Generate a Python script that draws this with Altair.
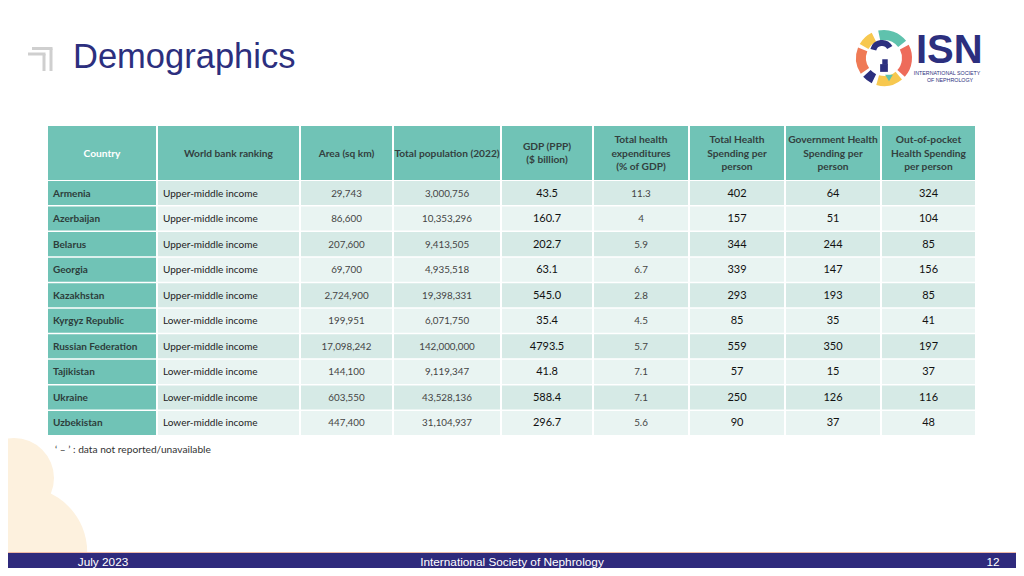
import altair as alt
import pandas as pd

# ---------------- data ----------------
countries = ["Armenia", "Azerbaijan", "Belarus", "Georgia", "Kazakhstan",
             "Kyrgyz Republic", "Russian Federation", "Tajikistan", "Ukraine", "Uzbekistan"]
wb_ranking = ["Upper-middle income", "Upper-middle income", "Upper-middle income",
              "Upper-middle income", "Upper-middle income", "Lower-middle income",
              "Upper-middle income", "Lower-middle income", "Lower-middle income",
              "Lower-middle income"]
area_sqkm = [29743, 86600, 207600, 69700, 2724900, 199951, 17098242, 144100, 603550, 447400]
population_2022 = [3000756, 10353296, 9413505, 4935518, 19398331, 6071750, 142000000,
                   9119347, 43528136, 31104937]
gdp_ppp_bn = [43.5, 160.7, 202.7, 63.1, 545.0, 35.4, 4793.5, 41.8, 588.4, 296.7]
health_exp_pct = [11.3, 4, 5.9, 6.7, 2.8, 4.5, 5.7, 7.1, 7.1, 5.6]
total_spend_pp = [402, 157, 344, 339, 293, 85, 559, 57, 250, 90]
gov_spend_pp = [64, 51, 244, 147, 193, 35, 350, 15, 126, 37]
oop_spend_pp = [324, 104, 85, 156, 85, 41, 197, 37, 116, 48]
headers = ["Country", "World bank ranking", "Area (sq km)", "Total population (2022)",
           "GDP (PPP)\n($ billion)", "Total health\nexpenditures\n(% of GDP)",
           "Total Health\nSpending per\nperson", "Government Health\nSpending per\nperson",
           "Out-of-pocket\nHealth Spending\nper person"]
title_text = "Demographics"
note_text = "\u2018 \u2013 \u2019 : data not reported/unavailable"
footer_texts = ["July 2023", "International  Society of Nephrology", "12"]

# ---------------- layout (styles / positions) ----------------
W, H = 1008, 560          # fits the page exactly (8px body margin on each side)
col_edges = [47, 157, 300, 393, 501, 593, 689, 785, 881, 976]
head_top, head_bot = 126, 180
row_top0, row_h = 181, 25.55
LH = 13.5
TEAL = "#70c3b6"
ROW_DARK, ROW_LIGHT = "#d6eae6", "#e9f4f2"
NAVY = "#2c2f7e"
FONT = "Lato"

xs = alt.Scale(domain=[8, 8 + W], range=[0, W], zero=False, nice=False)
ys = alt.Scale(domain=[8, 8 + H], range=[0, H], zero=False, nice=False)


def X(f):
    return alt.X(f, type="quantitative", scale=xs, axis=None)


def Y(f):
    return alt.Y(f, type="quantitative", scale=ys, axis=None)


# ---------------- table cells ----------------
columns = [
    [str(c) for c in countries],
    list(wb_ranking),
    [f"{v:,}" for v in area_sqkm],
    [f"{v:,}" for v in population_2022],
    [f"{v:.1f}" for v in gdp_ppp_bn],
    [f"{v:g}" for v in health_exp_pct],
    [str(v) for v in total_spend_pp],
    [str(v) for v in gov_spend_pp],
    [str(v) for v in oop_spend_pp],
]
col_size = [10, 10, 9.8, 9.8, 11, 9.8, 11, 11, 11]
col_color = ["#2d3d3b", "#222222", "#444444", "#444444", "#111111", "#444444",
             "#111111", "#111111", "#111111"]

cells, head_txt, txt_rows = [], [], []
for j in range(9):
    x0, x1 = col_edges[j] + 1, col_edges[j + 1] - 1
    cells.append(dict(x0=x0, x1=x1, y0=head_top, y1=head_bot, fill=TEAL))
    n_lines = len(headers[j].split("\n"))
    yc = (head_top + head_bot) / 2 + 0.5
    head_txt.append(dict(x=(x0 + x1) / 2, y=yc - (n_lines - 1) * LH / 2,
                         t=headers[j], c="#ffffff" if j == 0 else "#33403e"))
    for i in range(len(countries)):
        y0 = row_top0 + i * row_h
        y1 = y0 + row_h - 1.5
        fill = TEAL if j == 0 else (ROW_DARK if i % 2 == 0 else ROW_LIGHT)
        cells.append(dict(x0=x0, x1=x1, y0=y0, y1=y1, fill=fill))
        if j == 0:
            xt, kind = x0 + 5, "country"
        elif j == 1:
            xt, kind = x0 + 5, "left"
        else:
            xt, kind = (x0 + x1) / 2, "center"
        txt_rows.append(dict(x=xt, y=(y0 + y1) / 2 + 0.5, t=columns[j][i], kind=kind,
                             s=col_size[j], c=col_color[j]))

cells_df = pd.DataFrame(cells)
head_df = pd.DataFrame(head_txt)
txt_df = pd.DataFrame(txt_rows)

cell_layer = alt.Chart(cells_df).mark_rect(strokeWidth=0).encode(
    x=X("x0"), x2="x1", y=Y("y0"), y2="y1",
    color=alt.Color("fill:N", scale=None))

head_layer = alt.Chart(head_df).mark_text(
    font=FONT, fontWeight="bold", fontSize=10.2, align="center", baseline="middle",
    lineBreak="\n", lineHeight=LH).encode(
    x=X("x"), y=Y("y"), text="t:N", color=alt.Color("c:N", scale=None))

country_layer = alt.Chart(txt_df).transform_filter(alt.datum.kind == "country").mark_text(
    font=FONT, fontWeight="bold", align="left", baseline="middle").encode(
    x=X("x"), y=Y("y"), text="t:N", color=alt.Color("c:N", scale=None),
    size=alt.Size("s:Q", scale=None))

left_layer = alt.Chart(txt_df).transform_filter(alt.datum.kind == "left").mark_text(
    font=FONT, align="left", baseline="middle").encode(
    x=X("x"), y=Y("y"), text="t:N", color=alt.Color("c:N", scale=None),
    size=alt.Size("s:Q", scale=None))

center_layer = alt.Chart(txt_df).transform_filter(alt.datum.kind == "center").mark_text(
    font=FONT, align="center", baseline="middle").encode(
    x=X("x"), y=Y("y"), text="t:N", color=alt.Color("c:N", scale=None),
    size=alt.Size("s:Q", scale=None))

# ---------------- decorations ----------------
blob_df = pd.DataFrame([dict(x=14, y=478, s=6400), dict(x=22, y=552, s=17000)])
blob_layer = alt.Chart(blob_df).mark_circle(color="#fdf1de", opacity=1).encode(
    x=X("x"), y=Y("y"), size=alt.Size("s:Q", scale=None))

icon_df = pd.DataFrame([
    dict(x=32, x2=52.5, y=48.5, y2=48.5), dict(x=51, x2=51, y=48.5, y2=71),
    dict(x=28, x2=45.5, y=54, y2=54), dict(x=44, x2=44, y=54, y2=71),
])
icon_layer = alt.Chart(icon_df).mark_rule(color="#cfcfcf", strokeWidth=3, strokeCap="butt").encode(
    x=X("x"), x2="x2", y=Y("y"), y2="y2")

title_layer = alt.Chart(pd.DataFrame([dict(x=73, y=68, t=title_text)])).mark_text(
    font="Liberation Sans", fontSize=34.5, color=NAVY, align="left", baseline="alphabetic").encode(
    x=X("x"), y=Y("y"), text="t:N")

note_layer = alt.Chart(pd.DataFrame([dict(x=55, y=450, t=note_text)])).mark_text(
    font=FONT, fontSize=10.2, color="#333333", align="left", baseline="middle").encode(
    x=X("x"), y=Y("y"), text="t:N")

# ISN logo
ring_df = pd.DataFrame([
    dict(a0=-12, a1=52, c="#5fc2ad"),
    dict(a0=62, a1=132, c="#ee6b5a"),
    dict(a0=140, a1=196, c="#f7c84f"),
    dict(a0=206, a1=228, c="#2c2f7e"),
    dict(a0=236, a1=292, c="#ef7a55"),
    dict(a0=300, a1=334, c="#f7c84f"),
])
ring_df["cx"] = 884
ring_df["cy"] = 58
ring_layer = alt.Chart(ring_df).mark_arc(innerRadius=18, outerRadius=28).encode(
    x=X("cx"), y=Y("cy"),
    theta=alt.Theta("a0:Q", scale=alt.Scale(domain=[0, 360], range=[0, 6.283185])),
    theta2="a1:Q",
    color=alt.Color("c:N", scale=None))

key_df = pd.DataFrame([dict(a0=-75, a1=60, c="#2c2f7e")])
key_df["cx"] = 882
key_df["cy"] = 52
key_layer = alt.Chart(key_df).mark_arc(innerRadius=6, outerRadius=12).encode(
    x=X("cx"), y=Y("cy"),
    theta=alt.Theta("a0:Q", scale=alt.Scale(domain=[0, 360], range=[0, 6.283185])),
    theta2="a1:Q",
    color=alt.Color("c:N", scale=None))
keydot_df = pd.DataFrame([dict(x=884, y=68, s=60), dict(x=885, y=62, s=30)])
keydot_layer = alt.Chart(keydot_df).mark_square(color="#2c2f7e", opacity=1).encode(
    x=X("x"), y=Y("y"), size=alt.Size("s:Q", scale=None))
teal_df = pd.DataFrame([dict(x=889, y=78, s=60)])
teal_layer = alt.Chart(teal_df).mark_point(shape="triangle-down", filled=True, color="#5fc2ad", opacity=1).encode(
    x=X("x"), y=Y("y"), size=alt.Size("s:Q", scale=None))

isn_layer = alt.Chart(pd.DataFrame([dict(x=916, y=63, t="ISN")])).mark_text(
    font="Liberation Sans", fontWeight="bold", fontSize=40, color=NAVY,
    align="left", baseline="alphabetic").encode(
    x=X("x"), y=Y("y"), text="t:N")
isn_sub = alt.Chart(pd.DataFrame([
    dict(x=947, y=73, t="INTERNATIONAL SOCIETY"),
    dict(x=950, y=79.5, t="OF NEPHROLOGY")])).mark_text(
    font="Liberation Sans", fontSize=5.3, color=NAVY, align="center", baseline="middle").encode(
    x=X("x"), y=Y("y"), text="t:N")

# footer
footer_rect = alt.Chart(pd.DataFrame([dict(x0=0, x1=1024, y0=553, y1=576)])).mark_rect(
    color="#2f2a7c").encode(x=X("x0"), x2="x1", y=Y("y0"), y2="y1")
footer_line = alt.Chart(pd.DataFrame([dict(x0=0, x1=1024, y=552.5)])).mark_rule(
    color="#efb9a6", strokeWidth=1.2).encode(x=X("x0"), x2="x1", y=Y("y"))
footer_txt = alt.Chart(pd.DataFrame([
    dict(x=103, y=561.5, t=footer_texts[0]),
    dict(x=512, y=561.5, t=footer_texts[1]),
    dict(x=993, y=561.5, t=footer_texts[2])])).mark_text(
    font="Liberation Sans", fontSize=11.8, color="#ffffff", align="center", baseline="middle").encode(
    x=X("x"), y=Y("y"), text="t:N")

chart = alt.layer(
    blob_layer, icon_layer, title_layer,
    ring_layer, key_layer, keydot_layer, teal_layer, isn_layer, isn_sub,
    cell_layer, head_layer, country_layer, left_layer, center_layer, note_layer,
    footer_rect, footer_line, footer_txt,
).properties(
    width=W, height=H, padding=0, autosize=alt.AutoSizeParams(type="none"),
    background="#ffffff",
).configure_view(stroke=None)

chart.save("out.html", embed_options={"renderer": "svg", "actions": False})
